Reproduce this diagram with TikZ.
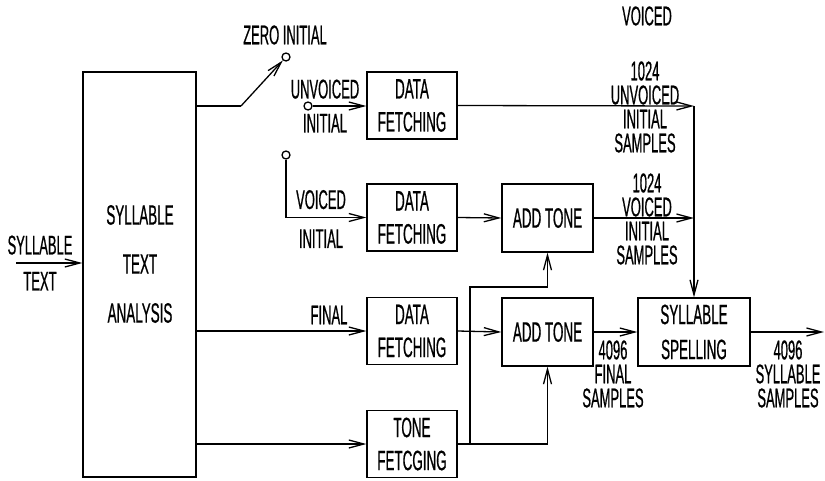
\documentclass[tikz,border=0pt]{standalone}
\usepackage{fontspec}
\setmainfont{Liberation Sans}[FakeStretch=0.48, FakeBold=0.6]
\usetikzlibrary{arrows.meta}

\tikzset{
  blk/.style={draw, line width=1.3pt, minimum width=90pt, minimum height=67pt,
    align=center, inner sep=0pt, font=\fontsize{28}{33}\selectfont},
  lbl/.style={align=center, inner sep=0pt, font=\fontsize{27}{24}\selectfont},
  contact/.style={circle, draw, line width=1.3pt, minimum size=8pt, inner sep=0pt, fill=white},
  flow/.style={line width=1.3pt, -{Straight Barb[length=15pt,width=8pt,line width=1.3pt]}},
}

\begin{document}
\begin{tikzpicture}[x=1pt, y=-1pt, line width=1.3pt]
    \useasboundingbox (0,0) rectangle (825,480);

    % Blocks
    \node[blk, minimum width=113pt, minimum height=405pt] (sta) at (139.5,274.5) {};
    \node[lbl, font=\fontsize{28}{49}\selectfont] at (140,264) {SYLLABLE\\TEXT\\ANALYSIS};
    \node[blk] (dfu) at (412,105.5) {DATA\\FETCHING};
    \node[blk] (dfv) at (412,217.5) {DATA\\FETCHING};
    \node[blk] (dff) at (412,331) {DATA\\FETCHING};
    \node[blk] (tf) at (412,444) {TONE\\FETCGING};
    \node[blk, minimum width=91pt, minimum height=68pt] (atv) at (547.5,218) {ADD TONE};
    \node[blk, minimum width=91pt, minimum height=68pt] (atf) at (547.5,332) {ADD TONE};
    \node[blk, minimum width=112pt, minimum height=68pt, font=\fontsize{28}{35}\selectfont] (ss) at (694,332) {SYLLABLE\\SPELLING};

    % Contacts
    \node[contact] (zc) at (286,57) {};
    \node[contact] (uc) at (308,106) {};
    \node[contact] (vc) at (286,155) {};

    % Free ends and junctions
    \coordinate (in) at (16,263);
    \coordinate (sw) at (241,106);
    \coordinate (jn) at (694,106);
    \coordinate (tj) at (470,444);
    \coordinate (tk) at (470,287);
    \coordinate (out) at (824,332);

    % Input and switch
    \draw[flow] (in) -- (in -| sta.west);
    \draw (sta.east |- sw) -- (sw);
    \draw[flow] (sw) -- (zc);
    \draw[flow] (uc) -- (uc -| dfu.west);
    \draw[flow] (vc) |- (dfv.west);
    \draw[flow] (sta.east |- dff) -- (dff.west);
    \draw[flow] (sta.east |- tf) -- (tf.west);

    % Tone adding
    \draw[flow] (dfv.east) -- (atv.west);
    \draw[flow] (dff.east) -- (atf.west);
    \draw (tf.east) -- (tj);
    \draw[flow] (tj) -- (tk) -| (atv.south);
    \draw[flow] (tj) -| (atf.south);

    % Spelling
    \draw[flow] (dfu.east) -- (jn);
    \draw[flow] (jn) -- (ss.north);
    \draw[flow] (atv.east) -- (atv.east -| jn);
    \draw[flow] (atf.east) -- (ss.west);
    \draw[flow] (ss.east) -- (out);

    % Labels
    \node[lbl] (lin) at (40,263) {SYLLABLE\\[12pt]TEXT};
    \node[lbl] (lzero) at (285,35) {ZERO INITIAL};
    \node[lbl] (lunv) at (325,106) {UNVOICED\\[10pt]INITIAL};
    \node[lbl] (lvoi) at (321,219) {VOICED\\[15pt]INITIAL};
    \node[lbl] (lfin) at (329,315) {FINAL};
    \node[lbl] (lus) at (645,107) {1024\\UNVOICED\\INITIAL\\SAMPLES};
    \node[lbl] (lvs) at (647,219) {1024\\VOICED\\INITIAL\\SAMPLES};
    \node[lbl] (lfs) at (613,374) {4096\\FINAL\\SAMPLES};
    \node[lbl] (lss) at (788,374) {4096\\SYLLABLE\\SAMPLES};
    \node[lbl] (ltop) at (647,16) {VOICED};
\end{tikzpicture}
\end{document}
